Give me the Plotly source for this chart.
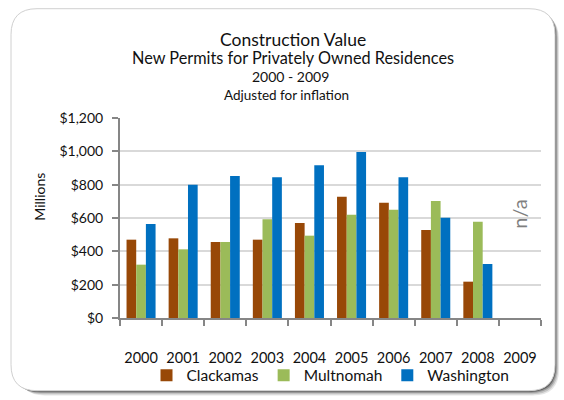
import plotly.graph_objects as go

years = ["2000", "2001", "2002", "2003", "2004", "2005", "2006", "2007", "2008", "2009"]
clackamas = [470, 478, 456, 470, 570, 728, 692, 528, 218, None]
multnomah = [320, 412, 456, 592, 494, 620, 650, 702, 578, None]
washington = [564, 800, 852, 844, 916, 996, 844, 602, 324, None]
y_ticks = [0, 200, 400, 600, 800, 1000, 1200]

W, H = 564, 400
L, R, T, B = 120, 541, 118.3, 318.3
FONT = "Lato"

def px(x):
    return (x - L) / (R - L)

def py(y):
    return (B - y) / (B - T)

def rrect(x0, y0, x1, y1, r):
    p = []
    p.append(f"M {px(x0 + r)},{py(y0)}")
    p.append(f"L {px(x1 - r)},{py(y0)}")
    p.append(f"Q {px(x1)},{py(y0)} {px(x1)},{py(y0 + r)}")
    p.append(f"L {px(x1)},{py(y1 - r)}")
    p.append(f"Q {px(x1)},{py(y1)} {px(x1 - r)},{py(y1)}")
    p.append(f"L {px(x0 + r)},{py(y1)}")
    p.append(f"Q {px(x0)},{py(y1)} {px(x0)},{py(y1 - r)}")
    p.append(f"L {px(x0)},{py(y0 + r)}")
    p.append(f"Q {px(x0)},{py(y0)} {px(x0 + r)},{py(y0)}")
    p.append("Z")
    return " ".join(p)

fig = go.Figure()
fig.add_bar(x=years, y=clackamas, name="Clackamas", marker=dict(color="#984807", line=dict(width=0)))
fig.add_bar(x=years, y=multnomah, name="Multnomah", marker=dict(color="#9BBB59", line=dict(width=0)))
fig.add_bar(x=years, y=washington, name="Washington", marker=dict(color="#0070C0", line=dict(width=0)))

shapes = []
for off, col in [(8, "rgba(0,0,0,0.10)"), (6, "rgba(0,0,0,0.15)"), (4, "rgba(0,0,0,0.22)"), (2, "rgba(0,0,0,0.35)")]:
    shapes.append(dict(type="path", xref="paper", yref="paper", layer="below",
                       path=rrect(11 + off, 9 + off * 0.6, 555 + off * 0.5, 391 + off * 0.6, 26),
                       fillcolor=col, line=dict(width=0)))
shapes.append(dict(type="path", xref="paper", yref="paper", layer="below",
                   path=rrect(11, 9, 555, 391, 26),
                   fillcolor="white", line=dict(color="#d0d0d0", width=1)))

annotations = [
    dict(text="Construction Value", x=px(293), y=py(40), font=dict(size=17.5)),
    dict(text="New Permits for Privately Owned Residences", x=px(293), y=py(58), font=dict(size=16.3)),
    dict(text="2000 - 2009", x=px(290), y=py(77), font=dict(size=14)),
    dict(text="Adjusted for inflation", x=px(286), y=py(95), font=dict(size=13.5)),
    dict(text="Millions", x=px(40), y=py(197), textangle=-90, font=dict(size=14)),
    dict(text="n/a", x=px(519), y=py(215), textangle=-90, font=dict(size=20, color="#7f7f7f")),
]
for a in annotations:
    a.update(xref="paper", yref="paper", showarrow=False, xanchor="center", yanchor="middle")
    a["font"].setdefault("color", "#111111")
    a["font"]["family"] = FONT

fig.update_layout(
    width=W, height=H,
    margin=dict(l=L, r=W - R, t=T, b=H - B, pad=0, autoexpand=False),
    paper_bgcolor="white",
    plot_bgcolor="rgba(0,0,0,0)",
    font=dict(family=FONT, size=13, color="#111111"),
    barmode="group",
    bargap=0.31,
    bargroupgap=0,
    showlegend=True,
    legend=dict(orientation="h", x=0.5, xanchor="center", y=py(376), yanchor="middle",
                font=dict(size=15.5, family=FONT), itemwidth=30, traceorder="normal",
                bgcolor="rgba(0,0,0,0)"),
    shapes=shapes,
    annotations=annotations,
    xaxis=dict(type="category", categoryorder="array", categoryarray=years,
               tickson="boundaries", ticks="outside", ticklen=6, tickwidth=2, tickcolor="#868686",
               showline=True, linecolor="#868686", linewidth=2, showgrid=False, tickangle=0,
               tickfont=dict(size=14.5), ticklabelstandoff=26, range=[-0.5, 9.5]),
    yaxis=dict(range=[0, 1200], tickvals=y_ticks, tickformat="$,", ticks="outside", ticklen=6,
               tickwidth=2, tickcolor="#868686", showline=True, linecolor="#868686", linewidth=2,
               showgrid=True, gridcolor="#d9d9d9", gridwidth=2, zeroline=False,
               tickfont=dict(size=14), ticklabelstandoff=6),
)

fig.write_html("out.html", config={"displayModeBar": False},
               post_script="document.body.style.margin='0';document.body.style.padding='0';")
